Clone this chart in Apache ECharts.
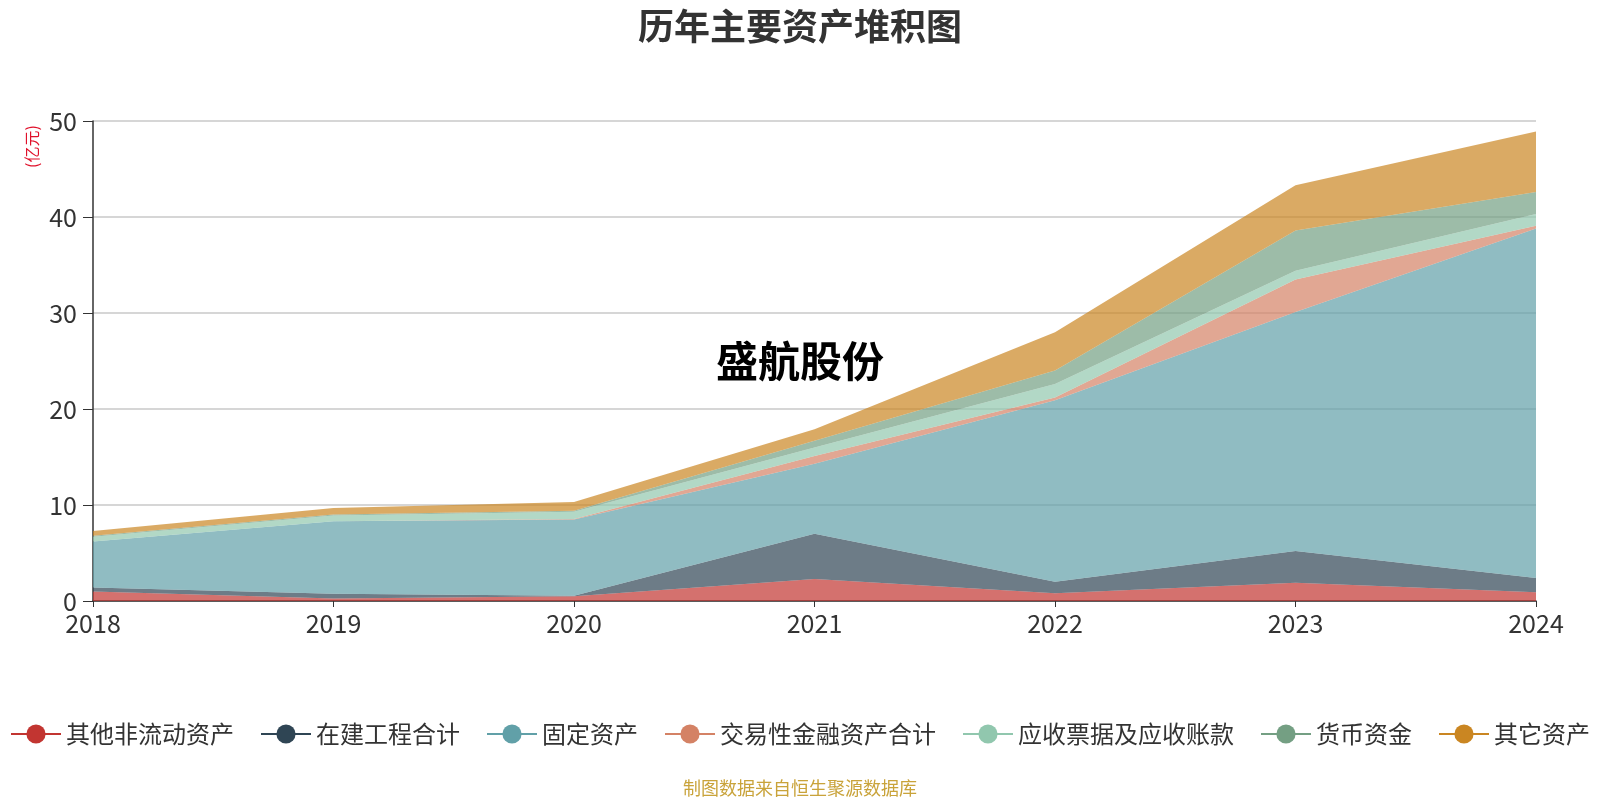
<!DOCTYPE html>
<html>
<head>
<meta charset="utf-8">
<script src="https://cdn.jsdelivr.net/npm/echarts@6/dist/echarts.min.js"></script>
<style>html,body{margin:0;padding:0;background:#fff;}#c{width:1600px;height:800px;}</style>
</head>
<body>
<div id="c"></div>
<script>
var years = ['2018','2019','2020','2021','2022','2023','2024'];
var otherNonCurrent = [1.0, 0.25, 0.5, 2.3, 0.8, 1.9, 0.9];
var construction = [0.4, 0.5, 0.05, 4.7, 1.2, 3.3, 1.5];
var fixedAssets = [4.8, 7.55, 7.95, 7.3, 18.9, 24.9, 36.4];
var tradingFinancial = [0, 0, 0.05, 0.8, 0.3, 3.4, 0.3];
var receivables = [0.5, 0.6, 0.75, 0.9, 1.4, 0.9, 1.2];
var cash = [0.1, 0.1, 0.1, 0.7, 1.4, 4.2, 2.3];
var otherAssets = [0.5, 0.7, 0.9, 1.2, 4.0, 4.7, 6.3];
var seriesNames = ['其他非流动资产','在建工程合计','固定资产','交易性金融资产合计','应收票据及应收账款','货币资金','其它资产'];
var seriesData = [otherNonCurrent, construction, fixedAssets, tradingFinancial, receivables, cash, otherAssets];
var colors = ['#c23531','#2f4554','#61a0a8','#d48265','#91c7ae','#749f83','#ca8622'];
var yTicks = [0, 10, 20, 30, 40, 50];

var chart = echarts.init(document.getElementById('c'));
var font = '"Microsoft YaHei","Noto Sans CJK SC","Noto Sans",sans-serif';
chart.setOption({
  color: colors,
  textStyle: {fontFamily: font},
  title: {
    text: '历年主要资产堆积图',
    left: 'center', top: 3,
    textStyle: {fontSize: 36, fontWeight: 'bold', color: '#333', fontFamily: font}
  },
  grid: {left: 93, right: 64, top: 121, bottom: 199, containLabel: false},
  legend: {
    bottom: 54, left: 'center', width: 1596, padding: 0,
    itemWidth: 50, itemHeight: 24, itemGap: 26,
    textStyle: {fontSize: 24, color: '#333', fontFamily: font},
    lineStyle: {width: 2, opacity: 1},
    data: seriesNames
  },
  xAxis: {
    type: 'category', data: years, boundaryGap: false,
    axisLine: {lineStyle: {color: '#333', width: 1.5}},
    axisTick: {length: 6, lineStyle: {color: '#333'}},
    axisLabel: {fontSize: 25, color: '#333', margin: 10}
  },
  yAxis: {
    type: 'value', min: yTicks[0], max: yTicks[yTicks.length-1], interval: 10,
    axisLine: {show: true, lineStyle: {color: '#333', width: 1.5}},
    axisTick: {show: true, length: 10, lineStyle: {color: '#333'}},
    axisLabel: {fontSize: 25, color: '#333', margin: 16},
    splitLine: {lineStyle: {color: '#c8c8c8', width: 1.5}}
  },
  graphic: [
    {type: 'text', left: 'center', top: 340, z: 100,
     style: {text: '盛航股份', font: 'bold 42px ' + font, fill: '#000'}},
    {type: 'text', x: 24, y: 168, rotation: Math.PI/2, z: 100,
     style: {text: '(亿元)', font: '16px ' + font, fill: '#e0102a'}},
    {type: 'text', left: 'center', top: 779, z: 100,
     style: {text: '制图数据来自恒生聚源数据库', font: '18px ' + font, fill: '#c9a33a'}}
  ],
  series: seriesNames.map(function(n, i){
    return {
      name: n, type: 'line', stack: 'total', data: seriesData[i],
      symbol: 'circle', symbolSize: 8, showSymbol: false,
      lineStyle: {width: 0, opacity: 0},
      areaStyle: {opacity: 0.7},
      emphasis: {disabled: true}
    };
  })
});
</script>
</body>
</html>
